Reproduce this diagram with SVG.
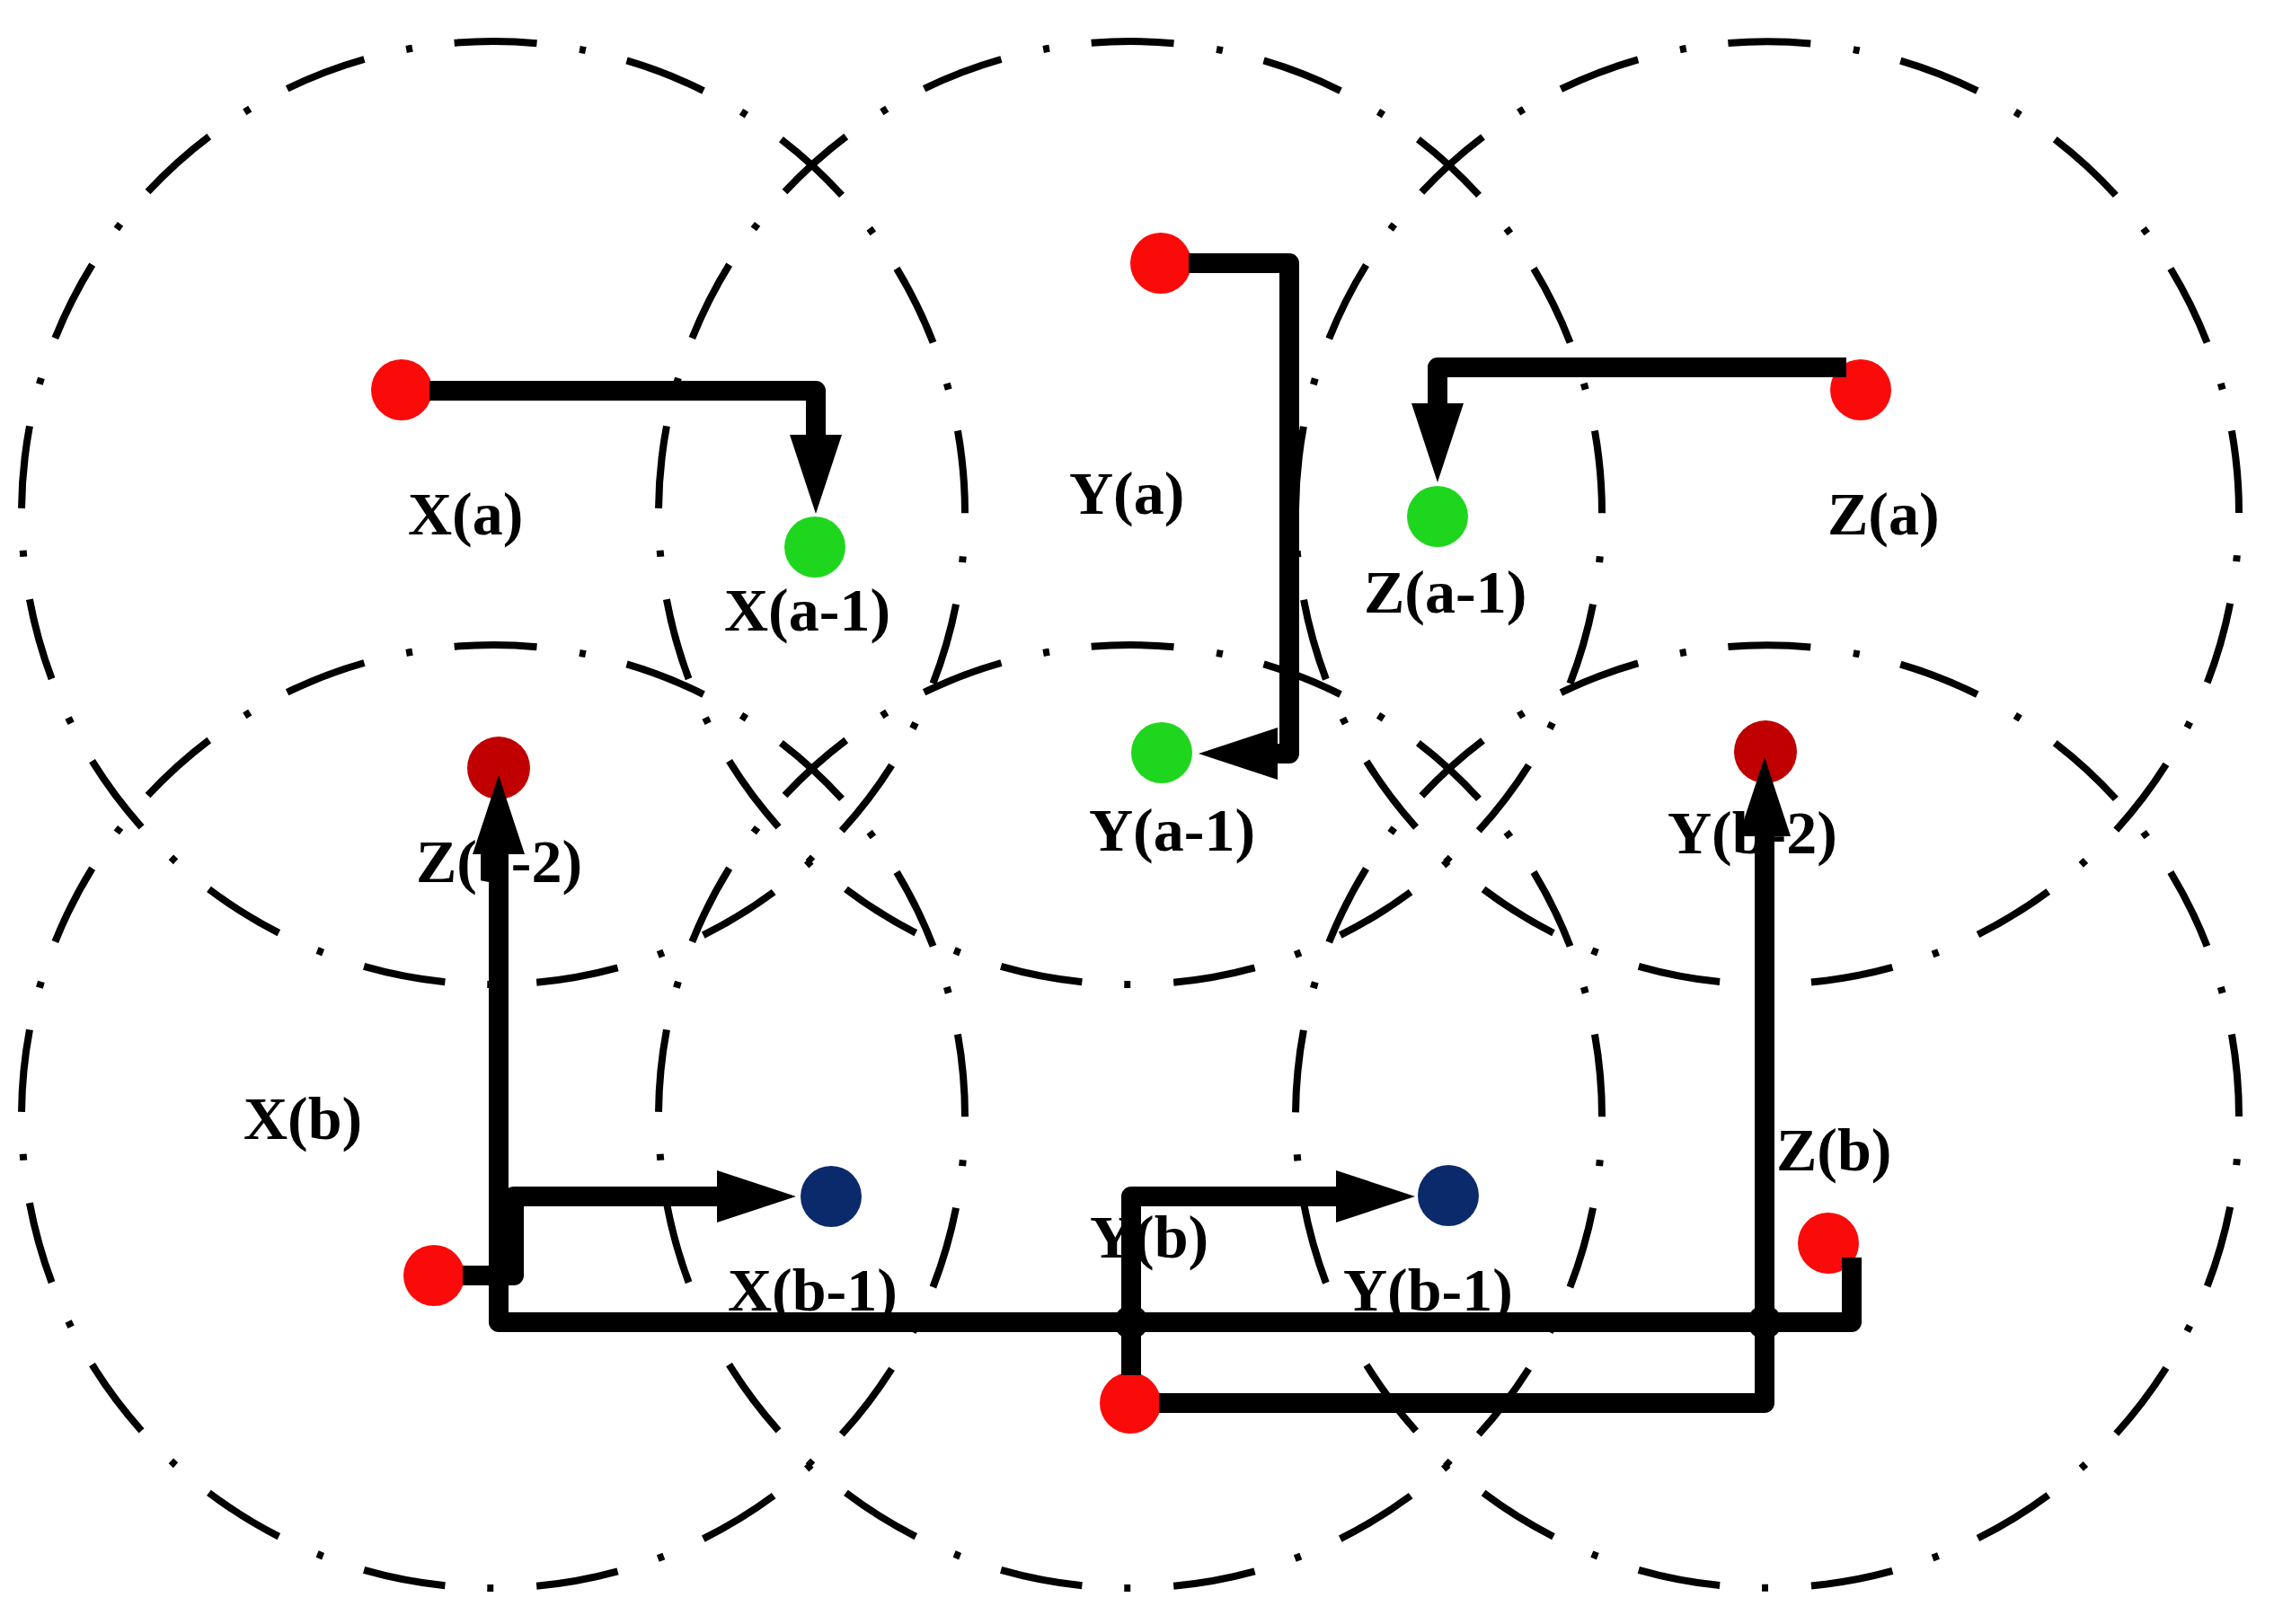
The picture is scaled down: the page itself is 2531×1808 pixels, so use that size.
<svg xmlns="http://www.w3.org/2000/svg" width="2531" height="1808" viewBox="0 0 2531 1808">
<style>
.ring{fill:none;stroke:#000;stroke-width:8;stroke-dasharray:92 47 7 48;}
.lbl{font-family:"Liberation Serif","Times New Roman",serif;font-weight:bold;font-size:68px;fill:#000;}
.red{fill:#fb0a0a;}
.grn{fill:#1fd61f;}
.drd{fill:#c00000;}
.blu{fill:#0b2a6b;}
.con{fill:none;stroke:#000;stroke-width:22;stroke-linejoin:round;stroke-linecap:butt;marker-end:url(#ah);}
</style>
<defs>
<marker id="ah" markerUnits="userSpaceOnUse" markerWidth="90" markerHeight="60" viewBox="0 0 90 60" refX="1" refY="30" orient="auto">
<path d="M0,1 L88,30 L0,59 Z" fill="#000"/>
</marker>
</defs>
<rect width="2531" height="1808" fill="#fff"/>
<g id="cells">
<path class="ring" d="M1074 571 A525 525 0 0 0 24 571 A525 525 0 0 0 1074 571"/>
<path class="ring" d="M1783 571 A525 525 0 0 0 733 571 A525 525 0 0 0 1783 571"/>
<path class="ring" d="M2492 571 A525 525 0 0 0 1442 571 A525 525 0 0 0 2492 571"/>
<path class="ring" d="M1074 1243 A525 525 0 0 0 24 1243 A525 525 0 0 0 1074 1243"/>
<path class="ring" d="M1783 1243 A525 525 0 0 0 733 1243 A525 525 0 0 0 1783 1243"/>
<path class="ring" d="M2492 1243 A525 525 0 0 0 1442 1243 A525 525 0 0 0 2492 1243"/>
</g>
<g id="node-Xa"><circle class="red" cx="447" cy="434" r="34"/><text class="lbl" x="454" y="595">X(a)</text></g>
<g id="node-Xa1"><circle class="grn" cx="907" cy="609" r="34"/><text class="lbl" x="806" y="702">X(a-1)</text></g>
<g id="node-Ya"><circle class="red" cx="1292" cy="293" r="34"/><text class="lbl" x="1190" y="572">Y(a)</text></g>
<g id="node-Ya1"><circle class="grn" cx="1293" cy="838" r="34"/><text class="lbl" x="1212" y="947">Y(a-1)</text></g>
<g id="node-Za"><circle class="red" cx="2071" cy="434" r="34"/><text class="lbl" x="2034" y="595">Z(a)</text></g>
<g id="node-Za1"><circle class="grn" cx="1600" cy="575" r="34"/><text class="lbl" x="1518" y="682">Z(a-1)</text></g>
<g id="node-Zb2"><circle class="drd" cx="555" cy="855" r="35"/><text class="lbl" x="463" y="982">Z(b-2)</text></g>
<g id="node-Yb2"><circle class="drd" cx="1965" cy="837" r="35"/><text class="lbl" x="1856" y="950">Y(b-2)</text></g>
<g id="node-Xb"><circle class="red" cx="483" cy="1420" r="34"/><text class="lbl" x="271" y="1268">X(b)</text></g>
<g id="node-Xb1"><circle class="blu" cx="925" cy="1332" r="34"/><text class="lbl" x="810" y="1459">X(b-1)</text></g>
<g id="node-Yb"><circle class="red" cx="1258" cy="1562" r="34"/><text class="lbl" x="1213" y="1400">Y(b)</text></g>
<g id="node-Yb1"><circle class="blu" cx="1612" cy="1331" r="34"/><text class="lbl" x="1495" y="1459">Y(b-1)</text></g>
<g id="node-Zb"><circle class="red" cx="2035" cy="1384" r="34"/><text class="lbl" x="1977" y="1303">Z(b)</text></g>
<g id="connectors">
<path class="con" d="M478 435 H908 V485"/>
<path class="con" d="M1323 293 H1435 V839 H1421"/>
<path class="con" d="M2055 409 H1600 V450"/>
<path class="con" d="M515 1420 H572 V1332 H799"/>
<path class="con" d="M1259 1531 V1332 H1488"/>
<path class="con" d="M1290 1562 H1964 V930"/>
<path class="con" d="M2061 1400 V1472 H555 V950"/>
<circle cx="1259" cy="1472" r="19" fill="#000"/>
<circle cx="1964" cy="1472" r="19" fill="#000"/>
<circle cx="555" cy="1420" r="16" fill="#000"/>
</g>
</svg>
